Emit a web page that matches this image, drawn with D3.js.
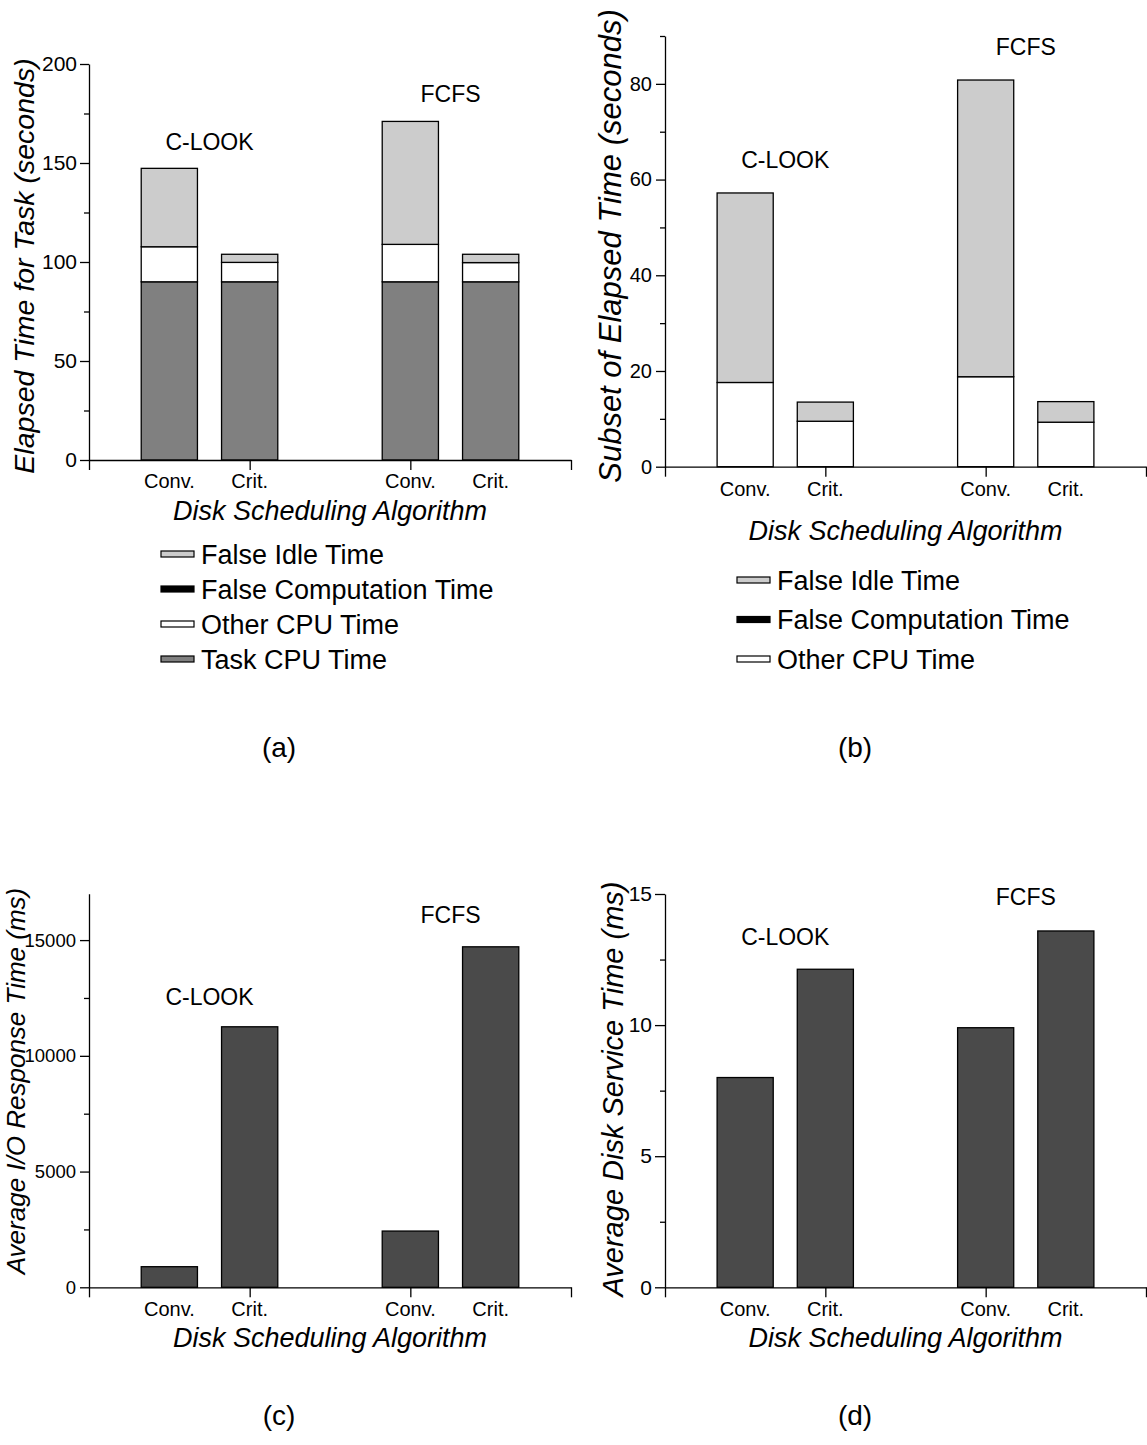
<!DOCTYPE html>
<html><head><meta charset="utf-8">
<script src="https://cdn.jsdelivr.net/npm/d3@7"></script>
<style>
body{margin:0;background:#fff}
svg{display:block}
text{font-family:"Liberation Sans",Arial,Helvetica,sans-serif;fill:#000}
</style>
</head><body>
<svg id="chart" width="1147" height="1445"></svg>
<script>
// ---------------- data ----------------
const categories = ["Conv.", "Crit.", "", "Conv.", "Crit."];
const groups = ["C-LOOK", "FCFS"];
const seriesNamesA = ["Task CPU Time", "Other CPU Time", "False Computation Time", "False Idle Time"];
const seriesNamesB = ["Other CPU Time", "False Computation Time", "False Idle Time"];

// (a) Elapsed time for task (seconds)
const aTaskCPU   = [90, 90, 0, 90, 90];
const aOtherCPU  = [17.7, 9.8, 0, 18.9, 9.7];
const aFalseComp = [0, 0, 0, 0, 0];
const aFalseIdle = [39.6, 4.1, 0, 62.1, 4.2];

// (b) Subset of elapsed time (seconds)
const bOtherCPU  = [17.6, 9.5, 0, 18.8, 9.3];
const bFalseComp = [0, 0, 0, 0, 0];
const bFalseIdle = [39.6, 4.0, 0, 62.0, 4.3];

// (c) Average I/O response time (ms)
const cResponse = [890, 11255, null, 2430, 14710];
// (d) Average disk service time (ms)
const dService = [8.0, 12.13, null, 9.9, 13.59];

const aTicks = [0, 50, 100, 150, 200], aMinor = [25, 75, 125, 175];
const bTicks = [0, 20, 40, 60, 80],   bMinor = [10, 30, 50, 70, 90];
const cTicks = [0, 5000, 10000, 15000], cMinor = [2500, 7500, 12500];
const dTicks = [0, 5, 10, 15],        dMinor = [2.5, 7.5, 12.5];

const colors = {
  "Task CPU Time": "#808080",
  "Other CPU Time": "#ffffff",
  "False Computation Time": "#000000",
  "False Idle Time": "#cccccc"
};
const solidFill = "#4a4a4a";

// ---------------- drawing ----------------
const svg = d3.select("#chart");

function panel(o) {
  const g = svg.append("g");
  const x = d3.scaleLinear().domain([0, 6]).range([o.left, o.right]);
  const y = d3.scaleLinear().domain([0, o.ymax]).range([o.bottom, o.top]);
  const bw = (x(1) - x(0)) * 0.7;

  if (o.stack) {
    const rows = categories.map((c, i) => {
      const r = {i};
      o.stack.forEach(s => r[s.name] = s.values[i]);
      return r;
    });
    const keys = o.stack.map(s => s.name);
    const st = d3.stack().keys(keys)(rows);
    st.forEach(layer => {
      g.append("g").selectAll("rect").data(layer).join("rect")
        .attr("x", d => x(d.data.i + 1) - bw / 2)
        .attr("width", bw)
        .attr("y", d => y(d[1]))
        .attr("height", d => y(d[0]) - y(d[1]))
        .attr("fill", colors[layer.key])
        .attr("stroke", "#000").attr("stroke-width", 1.3);
    });
  } else {
    const vals = o.values.map((v, i) => ({v, i})).filter(d => d.v != null);
    g.append("g").selectAll("rect").data(vals).join("rect")
      .attr("x", d => x(d.i + 1) - bw / 2)
      .attr("width", bw)
      .attr("y", d => y(d.v))
      .attr("height", d => y(0) - y(d.v))
      .attr("fill", solidFill)
      .attr("stroke", "#000").attr("stroke-width", 1.3);
  }

  // y axis
  const ya = g.append("g").attr("transform", `translate(${o.left},0)`)
    .call(d3.axisLeft(y).tickValues(o.ticks).tickSize(o.tickLen).tickPadding(o.pad)
      .tickSizeOuter(0).tickFormat(d3.format("d")));
  ya.selectAll("text").attr("font-size", o.tickFont).attr("font-family", '"Liberation Sans",Arial,sans-serif');
  const ym = g.append("g").attr("transform", `translate(${o.left},0)`)
    .call(d3.axisLeft(y).tickValues(o.minor).tickSize(5).tickFormat(""));
  ym.select(".domain").remove();

  // x axis
  g.append("g").attr("transform", `translate(0,${o.bottom})`)
    .call(d3.axisBottom(x).tickValues([0, 2, 4, 6]).tickSize(10).tickSizeOuter(0).tickFormat(""));

  g.selectAll(".domain, .tick line").attr("stroke", "#000").attr("stroke-width", 1.3);

  // category labels
  g.append("g").selectAll("text").data(categories.map((c, i) => ({c, i})).filter(d => d.c))
    .join("text")
    .attr("x", d => x(d.i + 1)).attr("y", o.catY)
    .attr("text-anchor", "middle").attr("font-size", 20).text(d => d.c);

  // group labels
  g.append("text").attr("x", (x(1) + x(2)) / 2).attr("y", o.g1Y)
    .attr("text-anchor", "middle").attr("font-size", 23).text(groups[0]);
  g.append("text").attr("x", (x(4) + x(5)) / 2).attr("y", o.g2Y)
    .attr("text-anchor", "middle").attr("font-size", 23).text(groups[1]);

  // x title
  g.append("text").attr("x", (o.left + o.right) / 2).attr("y", o.xTitleY)
    .attr("text-anchor", "middle").attr("font-size", 27).attr("font-style", "italic")
    .text("Disk Scheduling Algorithm");

  // y title
  g.append("text").attr("transform", `translate(${o.yTitleX},${o.yTitleY}) rotate(-90)`)
    .attr("text-anchor", "middle").attr("font-size", o.yTitleFont).attr("font-style", "italic")
    .text(o.yTitle);

  // sub label
  g.append("text").attr("x", o.subX).attr("y", o.subY).attr("text-anchor", "middle")
    .attr("font-family", '"Liberation Serif","Times New Roman",serif').attr("font-size", 28)
    .text(o.sub);
}

function legend(items, x0, yc0, step, font) {
  const g = svg.append("g");
  items.forEach((name, k) => {
    const yc = yc0 + k * step;
    g.append("rect").attr("x", x0).attr("y", yc - 3).attr("width", 33).attr("height", 6)
      .attr("fill", colors[name]).attr("stroke", "#000").attr("stroke-width", 1.2);
    g.append("text").attr("x", x0 + 40).attr("y", yc + font * 0.37).attr("font-size", font).text(name);
  });
}

panel({
  left: 89, right: 571, bottom: 460, top: 64, ymax: 200,
  ticks: aTicks, minor: aMinor, tickLen: 9, pad: 3, tickFont: 21,
  stack: [
    {name: "Task CPU Time", values: aTaskCPU},
    {name: "Other CPU Time", values: aOtherCPU},
    {name: "False Computation Time", values: aFalseComp},
    {name: "False Idle Time", values: aFalseIdle}
  ],
  catY: 488, g1Y: 150, g2Y: 102, xTitleY: 520,
  yTitle: "Elapsed Time for Task (seconds)", yTitleX: 34, yTitleY: 266, yTitleFont: 28.5,
  sub: "(a)", subX: 279, subY: 757
});
legend(["False Idle Time", "False Computation Time", "Other CPU Time", "Task CPU Time"], 161, 554, 35, 27);

panel({
  left: 665, right: 1146, bottom: 466.7, top: 36, ymax: 90,
  ticks: bTicks, minor: bMinor, tickLen: 9, pad: 4, tickFont: 20,
  stack: [
    {name: "Other CPU Time", values: bOtherCPU},
    {name: "False Computation Time", values: bFalseComp},
    {name: "False Idle Time", values: bFalseIdle}
  ],
  catY: 496, g1Y: 168, g2Y: 55, xTitleY: 540,
  yTitle: "Subset of Elapsed Time (seconds)", yTitleX: 621, yTitleY: 246, yTitleFont: 31,
  sub: "(b)", subX: 855, subY: 757
});
legend(["False Idle Time", "False Computation Time", "Other CPU Time"], 737, 580, 39.5, 27);

panel({
  left: 89, right: 571, bottom: 1287.3, top: 893.8, ymax: 17000,
  ticks: cTicks, minor: cMinor, tickLen: 9, pad: 4, tickFont: 18.5,
  values: cResponse,
  catY: 1316, g1Y: 1005, g2Y: 923, xTitleY: 1347,
  yTitle: "Average I/O Response Time (ms)", yTitleX: 24.5, yTitleY: 1081, yTitleFont: 26,
  sub: "(c)", subX: 279, subY: 1425
});

panel({
  left: 665, right: 1146, bottom: 1287.3, top: 894, ymax: 15,
  ticks: dTicks, minor: dMinor, tickLen: 10, pad: 3, tickFont: 21,
  values: dService,
  catY: 1316, g1Y: 945, g2Y: 905, xTitleY: 1347,
  yTitle: "Average Disk Service Time (ms)", yTitleX: 623, yTitleY: 1089, yTitleFont: 29,
  sub: "(d)", subX: 855, subY: 1425
});
</script>
</body></html>
